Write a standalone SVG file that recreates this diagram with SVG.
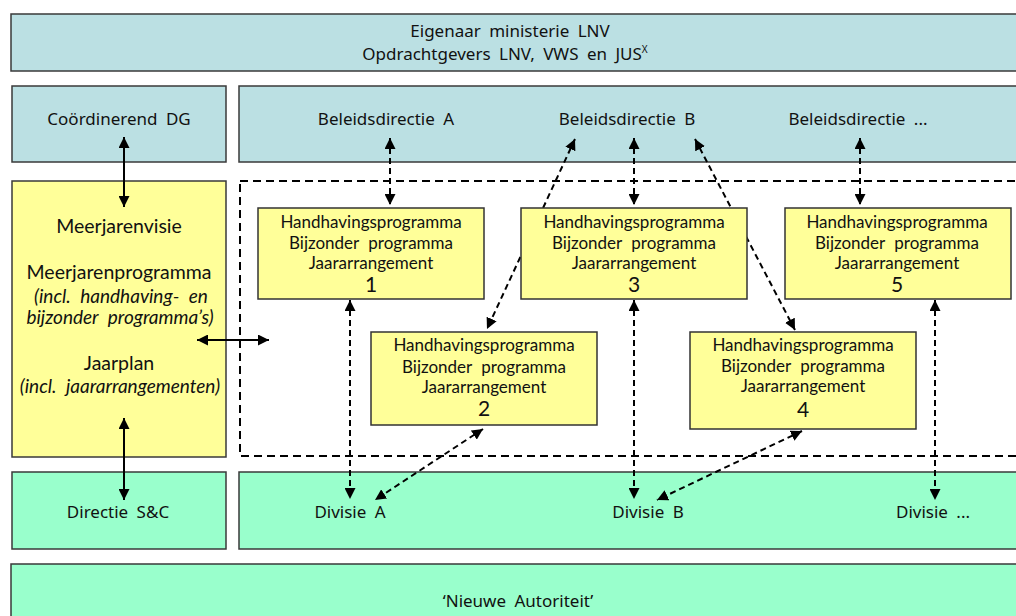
<svg xmlns="http://www.w3.org/2000/svg" width="1016" height="616" viewBox="0 0 1016 616">
  <style>
    .lvl-blue { fill: #bbe0e3; stroke: #3a3a3a; stroke-width: 1.5; }
    .lvl-green { fill: #99ffcc; stroke: #3a3a3a; stroke-width: 1.5; }
    .lvl-yellow { fill: #ffff99; stroke: #3a3a3a; stroke-width: 1.5; }
    .prog { fill: #ffff99; stroke: #333; stroke-width: 1.5; }
    .frame { fill: none; stroke: #000; stroke-width: 2; stroke-dasharray: 8 5; }
    .t { font-family: "Noto Sans", "DejaVu Sans", sans-serif; font-size: 17px; fill: #111; text-anchor: middle; word-spacing: 4px; }
    .p { font-family: Lato, "Open Sans", sans-serif; font-size: 17px; fill: #111; text-anchor: middle; word-spacing: 5px; }
    .pl { font-family: Lato, "Open Sans", sans-serif; font-size: 19.5px; fill: #111; text-anchor: middle; }
    .pn { font-family: Lato, "Open Sans", sans-serif; font-size: 21px; fill: #111; text-anchor: middle; }
    .pi { font-family: Lato, "Open Sans", sans-serif; font-size: 19px; font-style: italic; fill: #111; text-anchor: middle; word-spacing: 5px; }
    .solid { stroke: #000; stroke-width: 2; fill: none; marker-start: url(#ah); marker-end: url(#ah); }
    .dash { stroke: #000; stroke-width: 2; fill: none; stroke-dasharray: 6 4; marker-start: url(#ah); marker-end: url(#ah); }
  </style>
  <defs>
    <marker id="ah" viewBox="0 0 10 10" refX="10" refY="5" markerWidth="11" markerHeight="11" markerUnits="userSpaceOnUse" orient="auto-start-reverse">
      <path d="M0,0 L10,5 L0,10 z" fill="#000"/>
    </marker>
  </defs>

  <rect width="1016" height="616" fill="#fff"/>

  <!-- top level -->
  <g id="eigenaar">
    <rect class="lvl-blue" x="11" y="14" width="1020" height="57"/>
    <text class="t" x="510" y="37">Eigenaar ministerie LNV</text>
    <text class="t" x="505" y="60">Opdrachtgevers LNV, VWS en JUS<tspan font-size="10" dy="-7">X</tspan></text>
  </g>

  <g id="coordinerend-dg">
    <rect class="lvl-blue" x="12" y="86" width="214" height="76"/>
    <text class="t" x="119" y="125">Coördinerend DG</text>
  </g>

  <g id="beleidsdirecties">
    <rect class="lvl-blue" x="239" y="86" width="790" height="76"/>
    <text class="t" x="386" y="125">Beleidsdirectie A</text>
    <text class="t" x="627" y="125">Beleidsdirectie B</text>
    <text class="t" x="858" y="125">Beleidsdirectie ...</text>
  </g>

  <g id="planning">
    <rect class="lvl-yellow" x="12" y="181" width="214" height="276"/>
    <text class="pl" x="119" y="233">Meerjarenvisie</text>
    <text class="pl" x="119" y="279">Meerjarenprogramma</text>
    <text class="pi" x="121" y="303">(incl. handhaving- en</text>
    <text class="pi" x="120" y="324">bijzonder programma’s)</text>
    <text class="pl" x="119" y="370">Jaarplan</text>
    <text class="pi" x="120" y="393">(incl. jaararrangementen)</text>
  </g>

  <g id="directie-sc">
    <rect class="lvl-green" x="12" y="472" width="214" height="77"/>
    <text class="t" x="118" y="518">Directie S&amp;C</text>
  </g>

  <g id="divisies">
    <rect class="lvl-green" x="239" y="472" width="790" height="77"/>
    <text class="t" x="350" y="518">Divisie A</text>
    <text class="t" x="648" y="518">Divisie B</text>
    <text class="t" x="933" y="518">Divisie ...</text>
  </g>

  <g id="nieuwe-autoriteit">
    <rect class="lvl-green" x="11" y="564" width="1020" height="70"/>
    <text class="t" x="518" y="607">‘Nieuwe Autoriteit’</text>
  </g>

  <!-- programme area -->
  <g id="programma-kader">
    <rect class="frame" x="240" y="181" width="790" height="275"/>
  </g>

  <g id="connectors">
    <line class="solid" x1="124" y1="137" x2="124" y2="207"/>
    <line class="solid" x1="124" y1="418" x2="124" y2="500"/>
    <line class="solid" x1="197" y1="340" x2="269" y2="340"/>

    <line class="dash" x1="390" y1="138" x2="390" y2="205"/>
    <line class="dash" x1="575" y1="139" x2="487" y2="329"/>
    <line class="dash" x1="634" y1="138" x2="634" y2="205"/>
    <line class="dash" x1="695" y1="139" x2="795" y2="330"/>
    <line class="dash" x1="860" y1="138" x2="860" y2="205"/>

    <line class="dash" x1="350" y1="300" x2="350" y2="499"/>
    <line class="dash" x1="483" y1="429" x2="375" y2="500"/>
    <line class="dash" x1="634" y1="300" x2="634" y2="499"/>
    <line class="dash" x1="802" y1="431" x2="657" y2="500"/>
    <line class="dash" x1="935" y1="300" x2="935" y2="500"/>
  </g>

  <!-- programmes -->
  <g id="programma-1">
    <rect class="prog" x="258" y="208" width="226" height="91"/>
    <text class="p" x="371" y="228">Handhavingsprogramma</text>
    <text class="p" x="371" y="249">Bijzonder programma</text>
    <text class="p" x="371" y="269">Jaararrangement</text>
    <text class="pn" x="371" y="292">1</text>
  </g>
  <g id="programma-3">
    <rect class="prog" x="521" y="208" width="226" height="91"/>
    <text class="p" x="634" y="228">Handhavingsprogramma</text>
    <text class="p" x="634" y="249">Bijzonder programma</text>
    <text class="p" x="634" y="269">Jaararrangement</text>
    <text class="pn" x="634" y="292">3</text>
  </g>
  <g id="programma-5">
    <rect class="prog" x="785" y="208" width="226" height="91"/>
    <text class="p" x="897" y="228">Handhavingsprogramma</text>
    <text class="p" x="897" y="249">Bijzonder programma</text>
    <text class="p" x="897" y="269">Jaararrangement</text>
    <text class="pn" x="897" y="292">5</text>
  </g>
  <g id="programma-2">
    <rect class="prog" x="371" y="332" width="226" height="93"/>
    <text class="p" x="484" y="351">Handhavingsprogramma</text>
    <text class="p" x="484" y="373">Bijzonder programma</text>
    <text class="p" x="484" y="393">Jaararrangement</text>
    <text class="pn" x="484" y="416">2</text>
  </g>
  <g id="programma-4">
    <rect class="prog" x="690" y="332" width="226" height="97"/>
    <text class="p" x="803" y="351">Handhavingsprogramma</text>
    <text class="p" x="803" y="372">Bijzonder programma</text>
    <text class="p" x="803" y="392">Jaararrangement</text>
    <text class="pn" x="803" y="417">4</text>
  </g>
</svg>
